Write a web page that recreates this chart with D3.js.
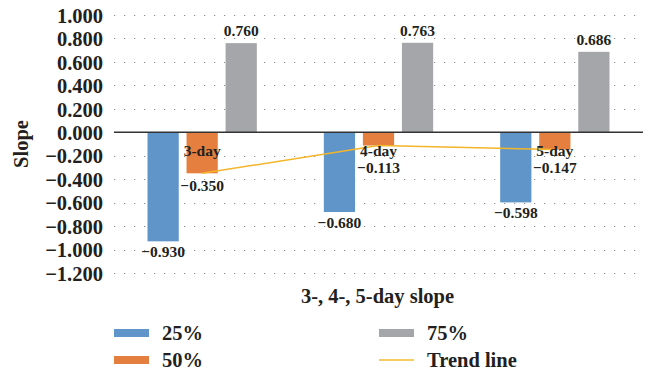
<!DOCTYPE html>
<html>
<head>
<meta charset="utf-8">
<script src="https://cdn.jsdelivr.net/npm/d3@7"></script>
<style>
  html, body { margin: 0; padding: 0; background: #fff; }
  svg { display: block; font-family: "Liberation Serif", "DejaVu Serif", serif; font-weight: bold; }
</style>
</head>
<body>
<svg id="chart" width="651" height="372"></svg>
<script>
// Slope quantiles per window length
const categories = ["3-day", "4-day", "5-day"];
const seriesNames = ["25%", "50%", "75%"];
const q25 = [-0.930, -0.680, -0.598];
const q50 = [-0.350, -0.113, -0.147];
const q75 = [0.760, 0.763, 0.686];
const trendValues = [-0.350, -0.113, -0.147];
const yTicks = [1.0, 0.8, 0.6, 0.4, 0.2, 0.0, -0.2, -0.4, -0.6, -0.8, -1.0, -1.2];

const colors = { "25%": "#5f95c9", "50%": "#e57f3f", "75%": "#a5a6a9" };
const trendColor = "#f3b52a";
const textColor = "#231f20";

const svg = d3.select("#chart");
const plot = { left: 114, right: 643, top: 15, bottom: 273 };

const x0 = d3.scaleBand().domain(categories).range([plot.left, plot.right]).paddingInner(0).paddingOuter(0);
const x1 = d3.scaleBand().domain(seriesNames).range([33.5, x0.bandwidth() - 33.5]).paddingInner(0.2).paddingOuter(0);
const y = d3.scaleLinear().domain([-1.2, 1.0]).range([plot.bottom, plot.top]);

const seriesData = seriesNames.map((name, si) => ({
  name,
  values: [q25, q50, q75][si]
}));

// dotted horizontal gridlines
svg.append("g")
  .selectAll("line")
  .data(yTicks.filter(t => t !== 0))
  .join("line")
  .attr("x1", plot.left).attr("x2", plot.right)
  .attr("y1", d => Math.round(y(d)) + 0.5).attr("y2", d => Math.round(y(d)) + 0.5)
  .attr("stroke", "#8a8a8a")
  .attr("stroke-width", 1.2)
  .attr("stroke-dasharray", "1.2,8.8");

// y axis tick labels
const yAxis = d3.axisLeft(y).tickValues(yTicks).tickSize(0).tickPadding(0)
  .tickFormat(d => (d < 0 ? "\u2212" : "") + Math.abs(d).toFixed(3));
const gy = svg.append("g").attr("transform", `translate(${plot.left - 11},0)`).call(yAxis);
gy.select(".domain").remove();
gy.selectAll("text")
  .attr("fill", textColor)
  .style("font-size", "20.5px")
  .style("font-family", "'Liberation Serif', serif")
  .style("font-weight", "bold")
  .attr("dy", "0.35em");

// bars
const groups = svg.append("g")
  .selectAll("g")
  .data(seriesData)
  .join("g")
  .attr("fill", d => colors[d.name]);

groups.selectAll("rect")
  .data(d => d.values.map((v, i) => ({ name: d.name, cat: categories[i], v })))
  .join("rect")
  .attr("x", d => x0(d.cat) + x1(d.name))
  .attr("width", x1.bandwidth())
  .attr("y", d => y(Math.max(0, d.v)))
  .attr("height", d => Math.abs(y(d.v) - y(0)));

// zero line
svg.append("line")
  .attr("x1", plot.left).attr("x2", plot.right)
  .attr("y1", y(0)).attr("y2", y(0))
  .attr("stroke", "#333")
  .attr("stroke-width", 1.5);

// trend line through the 50% values
const line = d3.line()
  .x((d, i) => x0(categories[i]) + x0.bandwidth() / 2)
  .y(d => y(d));
svg.append("path")
  .datum(trendValues)
  .attr("d", line)
  .attr("fill", "none")
  .attr("stroke", trendColor)
  .attr("stroke-width", 1.5);

// category labels just under the zero line
svg.append("g")
  .selectAll("text")
  .data(categories)
  .join("text")
  .attr("x", d => x0(d) + x0.bandwidth() / 2)
  .attr("y", y(0) + 24)
  .attr("text-anchor", "middle")
  .attr("fill", textColor)
  .style("font-size", "15.5px")
  .text(d => d);

// value labels
const fmt = v => (v < 0 ? "\u2212" : "") + Math.abs(v).toFixed(3);
const labelData = seriesData.flatMap(s => s.values.map((v, i) => ({ name: s.name, cat: categories[i], v })));
svg.append("g")
  .selectAll("text")
  .data(labelData)
  .join("text")
  .attr("x", d => x0(d.cat) + x1(d.name) + x1.bandwidth() / 2)
  .attr("y", d => {
    if (d.v >= 0) return y(d.v) - 7;
    if (d.name === "50%") return Math.max(y(d.v) + 18, y(0) + 41);
    return y(d.v) + 16;
  })
  .attr("text-anchor", "middle")
  .attr("fill", textColor)
  .style("font-size", "15.5px")
  .text(d => fmt(d.v));

// axis titles
svg.append("text")
  .attr("transform", `translate(28,${(plot.top + plot.bottom) / 2}) rotate(-90)`)
  .attr("text-anchor", "middle")
  .attr("fill", textColor)
  .style("font-size", "20.5px")
  .text("Slope");

svg.append("text")
  .attr("x", (plot.left + plot.right) / 2 - 1)
  .attr("y", 303)
  .attr("text-anchor", "middle")
  .attr("fill", textColor)
  .style("font-size", "20.5px")
  .text("3-, 4-, 5-day slope");

// legend
const legendItems = [
  { label: "25%", type: "rect", color: colors["25%"], x: 114, y: 333 },
  { label: "50%", type: "rect", color: colors["50%"], x: 114, y: 360 },
  { label: "75%", type: "rect", color: colors["75%"], x: 379, y: 333 },
  { label: "Trend line", type: "line", color: "#f6cc62", x: 379, y: 360 }
];
const lg = svg.append("g").selectAll("g").data(legendItems).join("g")
  .attr("transform", d => `translate(${d.x},${d.y})`);
lg.filter(d => d.type === "rect").append("rect")
  .attr("x", 0).attr("y", -4).attr("width", 35).attr("height", 8)
  .attr("fill", d => d.color);
lg.filter(d => d.type === "line").append("line")
  .attr("x1", 0).attr("x2", 35).attr("y1", 0).attr("y2", 0)
  .attr("stroke", d => d.color).attr("stroke-width", 2);
lg.append("text")
  .attr("x", 48).attr("y", 0).attr("dy", "0.35em")
  .attr("fill", textColor)
  .style("font-size", "20.5px")
  .text(d => d.label);
</script>
</body>
</html>
